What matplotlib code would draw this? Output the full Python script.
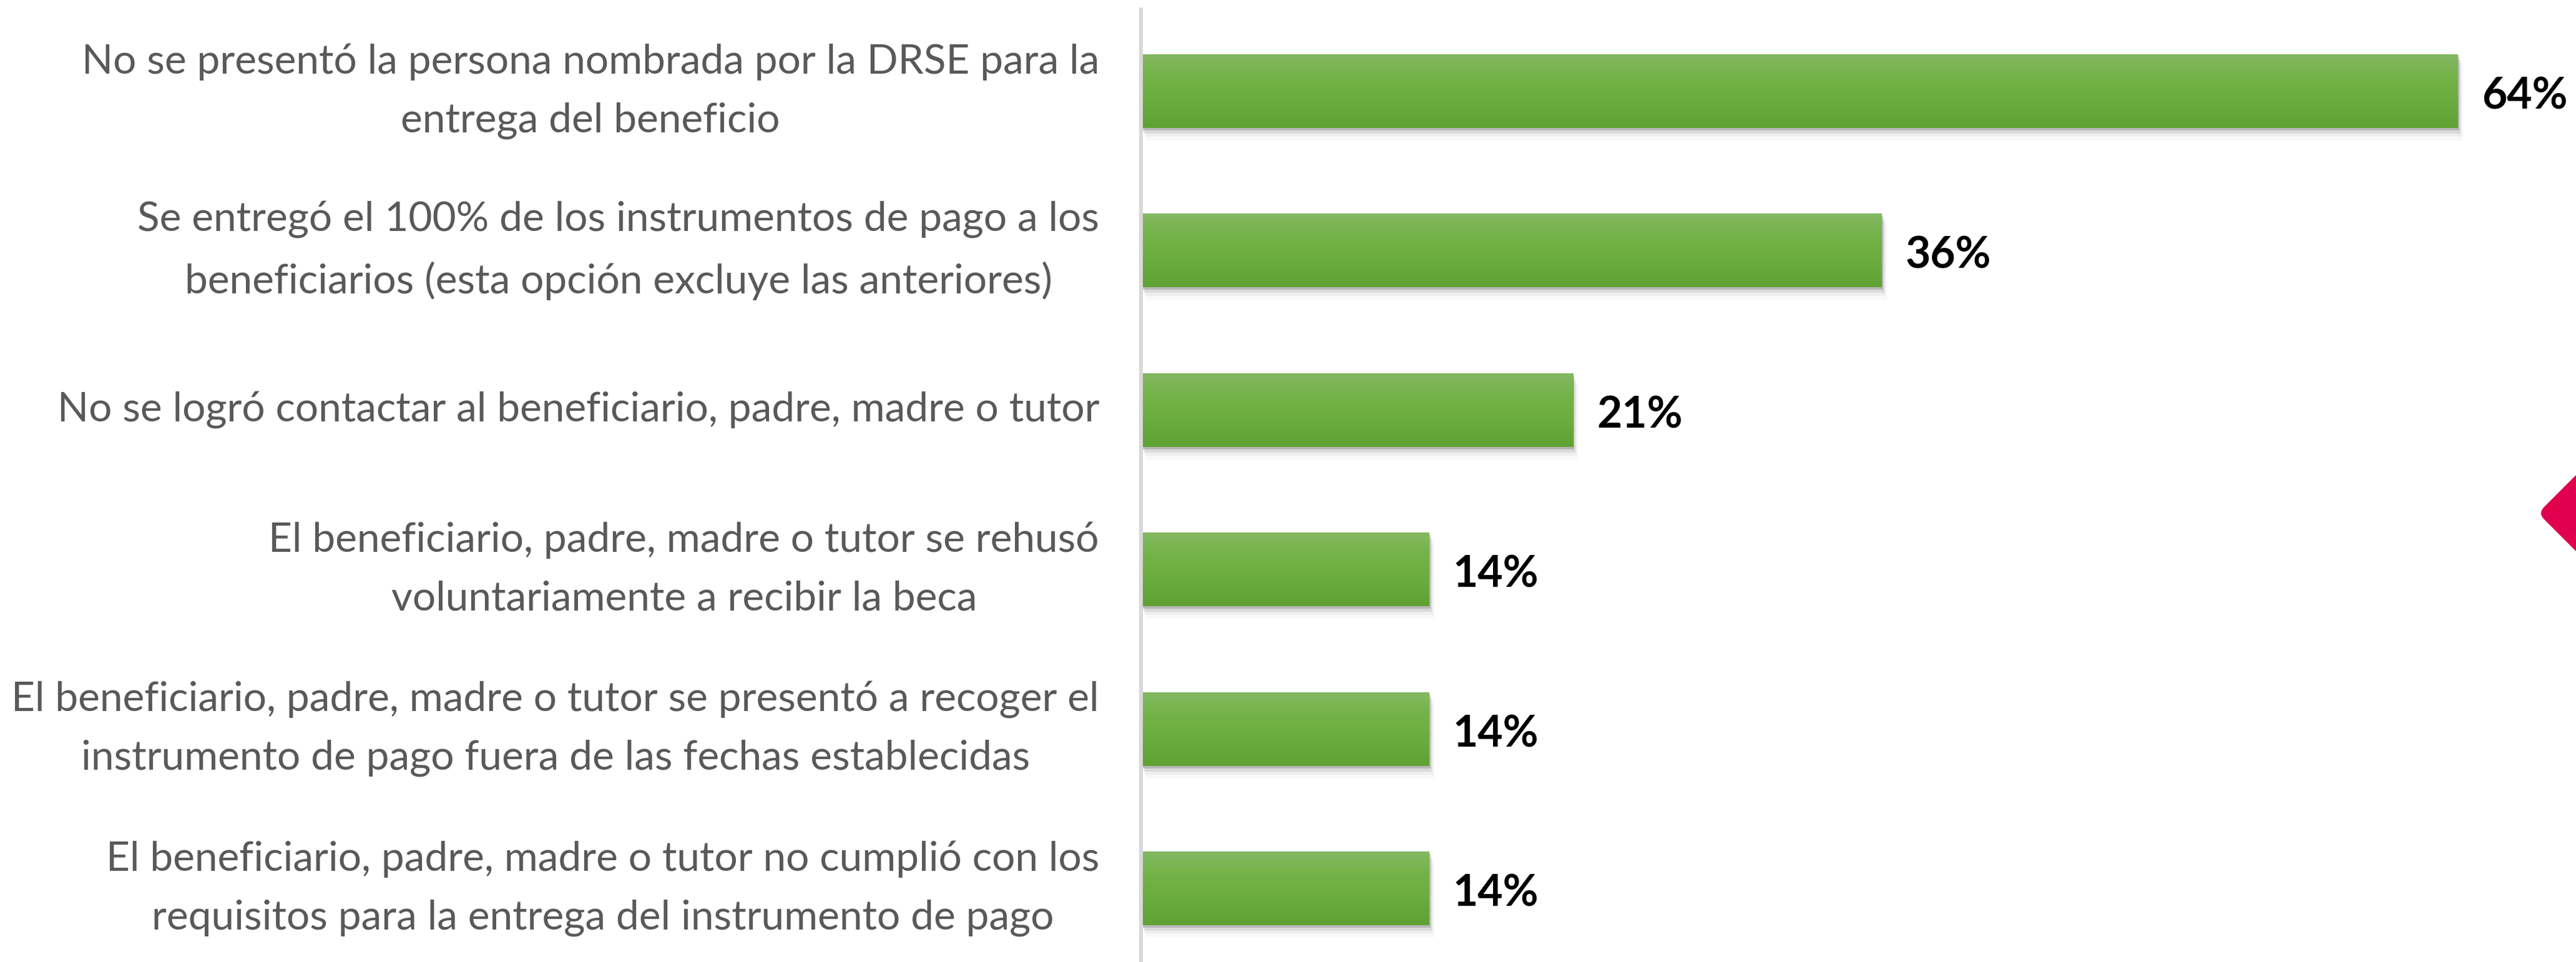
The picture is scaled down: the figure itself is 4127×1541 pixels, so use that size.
import matplotlib
matplotlib.use("Agg")
import matplotlib.pyplot as plt
import numpy as np
from matplotlib.font_manager import FontProperties
from matplotlib.textpath import TextPath
import matplotlib.patheffects as pe
import matplotlib.transforms as mtransforms
from matplotlib.patches import FancyBboxPatch
from matplotlib.colors import LinearSegmentedColormap

# ---------------- data ----------------
categories = [
    "No se presentó la persona nombrada por la DRSE para la\nentrega del beneficio",
    "Se entregó el 100% de los instrumentos de pago a los\nbeneficiarios (esta opción excluye las anteriores)",
    "No se logró contactar al beneficiario, padre, madre o tutor",
    "El beneficiario, padre, madre o tutor se rehusó\nvoluntariamente a recibir la beca",
    "El beneficiario, padre, madre o tutor se presentó a recoger el\ninstrumento de pago fuera de las fechas establecidas",
    "El beneficiario, padre, madre o tutor no cumplió con los\nrequisitos para la entrega del instrumento de pago",
]
values = [64, 36, 21, 14, 14, 14]
value_labels = [f"{v}%" for v in values]

# ---------------- figure ----------------
W, H, DPI = 4127, 1541, 100
fig = plt.figure(figsize=(W / DPI, H / DPI), dpi=DPI)
FAMILY = "Lato"


def px2pt(px):
    return px * 72.0 / DPI


def fit_size(text, weight, target_px):
    fp = FontProperties(family=FAMILY, weight=weight, size=100)
    w = TextPath((0, 0), text, prop=fp).get_extents().width
    return 100.0 * px2pt(target_px) / w


longest = max((l for c in categories for l in c.split("\n")), key=len)
label_fs = fit_size(longest, "normal", 1732)
value_fs = fit_size("64%", "bold", 132)

# line spacing: baseline distance ~91 px
fp_l = FontProperties(family=FAMILY, size=label_fs)
l_h = TextPath((0, 0), "l", prop=fp_l).get_extents().ymax  # points
lspacing = px2pt(91) / l_h * 0.91

axis_x = 1828
ax = fig.add_axes([axis_x / W, 0, 1 - axis_x / W, (H - 15) / H])

n = len(values)
ypos = np.arange(n)
bar_h = 0.462

shadow = [
    pe.SimplePatchShadow(offset=(px2pt(2), -px2pt(4)), shadow_rgbFace="#6f6f6f", alpha=0.35),
    pe.SimplePatchShadow(offset=(px2pt(4), -px2pt(9)), shadow_rgbFace="#7f7f7f", alpha=0.18),
    pe.SimplePatchShadow(offset=(px2pt(6), -px2pt(14)), shadow_rgbFace="#8f8f8f", alpha=0.10),
    pe.SimplePatchShadow(offset=(px2pt(8), -px2pt(20)), shadow_rgbFace="#9f9f9f", alpha=0.06),
    pe.Normal(),
]
bars = ax.barh(ypos, values, height=bar_h, color="#70b244", zorder=2,
               path_effects=shadow, linewidth=0)

cmap = LinearSegmentedColormap.from_list(
    "grn", ["#84b862", "#72b246", "#6aab3e", "#5fa132"])
grad = np.linspace(0, 1, 256).reshape(-1, 1)
for b in bars:
    x0, y0, w, h = b.get_x(), b.get_y(), b.get_width(), b.get_height()
    im = ax.imshow(grad, cmap=cmap, aspect="auto", origin="upper",
                   extent=(x0, x0 + w, y0 + h, y0), zorder=2.1,
                   interpolation="bilinear")
    im.set_clip_path(b)

for i, (v, lbl) in enumerate(zip(values, value_labels)):
    ax.annotate(lbl, (v, i), xytext=(px2pt(38), -px2pt(8)), textcoords="offset points",
                ha="left", va="center", fontsize=value_fs, fontweight="bold",
                family=FAMILY, color="black")

px_per_unit = (3938 - axis_x) / 64.0
ax.set_xlim(0, (W - axis_x) / px_per_unit)
unit = 255.4
ax.set_ylim((H - 146) / unit, -(146 - 15) / unit)

ax.set_yticks(ypos)
ax.set_yticklabels(categories, fontsize=label_fs, color="#595959", family=FAMILY,
                   linespacing=lspacing)
for t in ax.get_yticklabels():
    t.set_multialignment("center")
    t.set_verticalalignment("center")
ax.tick_params(axis="y", length=0, pad=px2pt(67))
ax.set_xticks([])
for s in ["top", "right", "bottom"]:
    ax.spines[s].set_visible(False)
ax.spines["left"].set_color("#d9d9d9")
ax.spines["left"].set_linewidth(px2pt(6))
ax.spines["left"].set_zorder(3)

# decorative diamond at right edge
d = 150.0
cx, cy = (4066 + d) / DPI, (H - 822) / DPI
side = d * np.sqrt(2) / DPI
diamond = FancyBboxPatch((cx - side / 2, cy - side / 2), side, side,
                         boxstyle="round,pad=0,rounding_size=0.14",
                         facecolor="#e0004d", edgecolor="none",
                         transform=mtransforms.Affine2D().rotate_deg_around(cx, cy, 45) + fig.dpi_scale_trans)
fig.add_artist(diamond)

fig.savefig("out.png", dpi=DPI, facecolor="white")
